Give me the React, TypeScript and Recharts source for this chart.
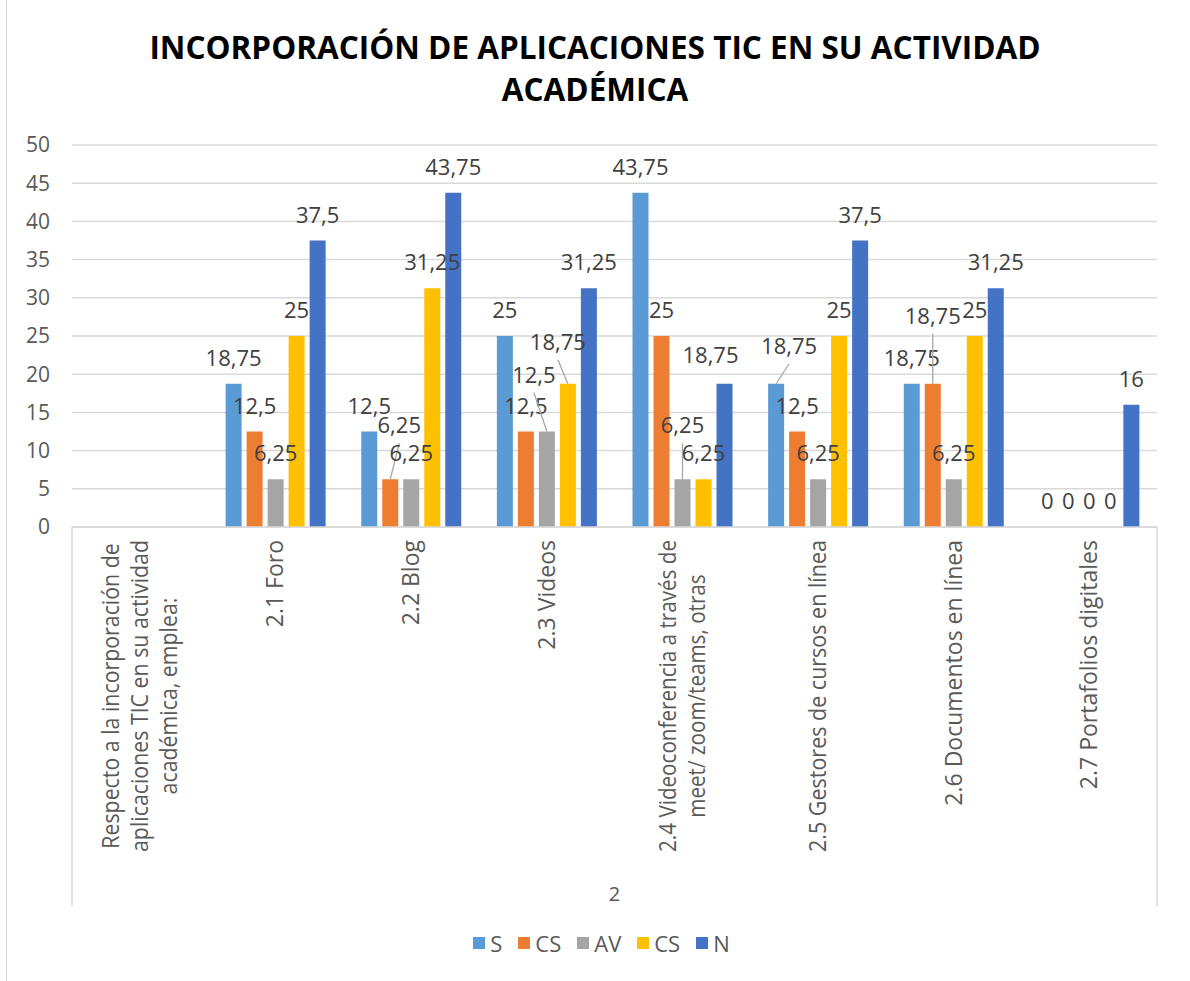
import React from 'react';
import { BarChart, Bar, XAxis, YAxis, CartesianGrid, LabelList, Legend, ReferenceArea } from 'recharts';

const categories = [
  'Respecto a la incorporación de\naplicaciones TIC en su actividad\nacadémica, emplea:',
  '2.1 Foro',
  '2.2 Blog',
  '2.3 Videos',
  '2.4 Videoconferencia a través de\nmeet/ zoom/teams, otras',
  '2.5 Gestores de cursos en línea',
  '2.6 Documentos en línea',
  '2.7 Portafolios digitales',
];
const groupLabel = '2';
const valuesS = [null, 18.75, 12.5, 25, 43.75, 18.75, 18.75, 0];
const valuesCS = [null, 12.5, 6.25, 12.5, 25, 12.5, 18.75, 0];
const valuesAV = [null, 6.25, 6.25, 12.5, 6.25, 6.25, 6.25, 0];
const valuesCS2 = [null, 25, 31.25, 18.75, 6.25, 25, 25, 0];
const valuesN = [null, 37.5, 43.75, 31.25, 18.75, 37.5, 31.25, 16];
const yTicks = [0, 5, 10, 15, 20, 25, 30, 35, 40, 45, 50];

const title = 'INCORPORACIÓN DE APLICACIONES TIC EN SU ACTIVIDAD\nACADÉMICA';

const series = [
  { key: 's', name: 'S', color: '#5B9BD5', values: valuesS },
  { key: 'cs', name: 'CS', color: '#ED7D31', values: valuesCS },
  { key: 'av', name: 'AV', color: '#A5A5A5', values: valuesAV },
  { key: 'cs2', name: 'CS', color: '#FFC000', values: valuesCS2 },
  { key: 'n', name: 'N', color: '#4472C4', values: valuesN },
];

// manual label nudges (Excel moved labels), styling only
const labelNudges: Record<string, { dx: number; dy: number; leader: boolean }> = {
  'cs-2': { dx: 9, dy: -28, leader: true },
  'av-3': { dx: -13, dy: -31, leader: true },
  'cs2-3': { dx: -10, dy: -16, leader: true },
  'av-4': { dx: 0, dy: -28, leader: true },
  'n-4': { dx: -14, dy: -3, leader: false },
  's-5': { dx: 13, dy: -12, leader: true },
  'cs-6': { dx: 0, dy: -42, leader: true },
};

const data = categories.map((c, i) => {
  const row: any = { category: c, group: groupLabel };
  series.forEach((s) => {
    row[s.key] = s.values[i];
  });
  return row;
});

const FONT = '"Open Sans", sans-serif';
const fmt = (v: number) => String(v).replace('.', ',');

let ctx: CanvasRenderingContext2D | null = null;
const measure = (text: string, font: string) => {
  if (!ctx) ctx = document.createElement('canvas').getContext('2d');
  if (!ctx) return text.length * 11;
  ctx.font = font;
  return ctx.measureText(text).width;
};

const CategoryTick = (props: any) => {
  const { x, y, payload } = props;
  const lines = String(payload.value).split('\n');
  const fs = 23;
  const lineH = 29;
  const maxLen = 312;
  const lens = lines.map((l) => measure(l, `${fs}px "Open Sans"`));
  const L = Math.max(...lens);
  const squeeze = L > maxLen ? maxLen / L : 1;
  const Lf = L * squeeze;
  const tx = x - 13 - Lf / 2;
  const n = lines.length;
  return (
    <text
      transform={`rotate(-90, ${x}, ${y})`}
      textAnchor="middle"
      fontFamily={FONT}
      fontSize={fs}
      fill="#595959"
    >
      {lines.map((l, i) => (
        <tspan
          key={i}
          x={tx}
          y={y + (i - (n - 1) / 2) * lineH + 8}
          {...(squeeze < 1 ? { textLength: lens[i] * squeeze, lengthAdjust: 'spacingAndGlyphs' } : {})}
        >
          {l}
        </tspan>
      ))}
    </text>
  );
};

const rowAccessor = (row: any) => row;

const makeLabel = (key: string) => (props: any) => {
  const { x, y, width, value } = props;
  const row = value;
  if (!row || typeof row !== 'object') return null;
  const v = row[key];
  if (v === null || v === undefined) return null;
  const index = categories.indexOf(row.category);
  const nudge = labelNudges[`${key}-${index}`];
  const cx = Number(x) + Number(width) / 2;
  const top = Number(y);
  const lx = cx + (nudge ? nudge.dx : 0);
  const base = top - 18 + (nudge ? nudge.dy : 0);
  return (
    <g>
      {nudge && nudge.leader ? (
        <line x1={cx} y1={top} x2={lx} y2={base + 10} stroke="#A6A6A6" strokeWidth={1.3} />
      ) : null}
      <text x={lx} y={base} textAnchor="middle" fontFamily={FONT} fontSize={22} fill="#404040">
        {fmt(Number(v))}
      </text>
    </g>
  );
};

const GroupShape = (props: any) => {
  const { x, y, width, height } = props;
  return (
    <g>
      <line x1={x} y1={y} x2={x} y2={y + height} stroke="#D9D9D9" strokeWidth={1.5} />
      <line x1={x + width} y1={y} x2={x + width} y2={y + height} stroke="#D9D9D9" strokeWidth={1.5} />
      <text x={x + width / 2} y={y + height - 5} textAnchor="middle" fontFamily={FONT} fontSize={20} fill="#595959">
        {groupLabel}
      </text>
    </g>
  );
};

const renderLegend = () => (
  <div
    style={{
      display: 'flex',
      justifyContent: 'center',
      alignItems: 'center',
      gap: 16,
      height: 30,
      paddingLeft: 46,
      fontFamily: FONT,
      fontSize: 22,
      color: '#595959',
    }}
  >
    {series.map((s) => (
      <div key={s.key} style={{ display: 'flex', alignItems: 'center' }}>
        <span style={{ width: 12, height: 12, background: s.color, display: 'inline-block', marginRight: 5 }} />
        <span>{s.name}</span>
      </div>
    ))}
  </div>
);

export default function App() {
  return (
    <div style={{ position: 'absolute', left: 0, top: 0, width: 1190, height: 981, background: '#fff' }}>
      <div style={{ position: 'absolute', left: 6, top: 0, width: 1, height: 981, background: '#D9D9D9' }} />
      <div
        style={{
          position: 'absolute',
          left: 0,
          top: 26,
          width: 1190,
          textAlign: 'center',
          fontFamily: FONT,
          fontWeight: 700,
          fontSize: 31.5,
          lineHeight: '42px',
          color: '#000',
          whiteSpace: 'pre-line',
        }}
      >
        {title}
      </div>
      <div style={{ position: 'absolute', left: 0, top: 0 }}>
        <BarChart
          width={1190}
          height={981}
          data={data}
          margin={{ top: 145, right: 33, left: 0, bottom: 23 }}
          barGap={5}
          barSize={16}
        >
          <CartesianGrid vertical={false} stroke="#D9D9D9" strokeWidth={1.5} />
          <XAxis
            dataKey="category"
            interval={0}
            height={401}
            tickSize={0}
            tickMargin={0}
            tickLine={false}
            axisLine={{ stroke: '#D9D9D9', strokeWidth: 1.5 }}
            tick={<CategoryTick />}
          />
          <YAxis
            domain={[0, 50]}
            ticks={yTicks}
            width={72}
            axisLine={false}
            tickLine={false}
            tickSize={0}
            tickMargin={22}
            tick={{ fontFamily: FONT, fontSize: 21, fill: '#595959' }}
          />
          <ReferenceArea
            x1={categories[0]}
            x2={categories[categories.length - 1]}
            y1={-49.6}
            y2={0}
            ifOverflow="visible"
            shape={<GroupShape />}
          />
          <Legend verticalAlign="bottom" height={30} content={renderLegend} />
          {series.map((s) => (
            <Bar
              key={s.key}
              dataKey={s.key}
              name={s.name}
              fill={s.color}
              minPointSize={0.01}
              isAnimationActive={false}
            >
              <LabelList dataKey={rowAccessor} content={makeLabel(s.key)} />
            </Bar>
          ))}
        </BarChart>
      </div>
    </div>
  );
}
